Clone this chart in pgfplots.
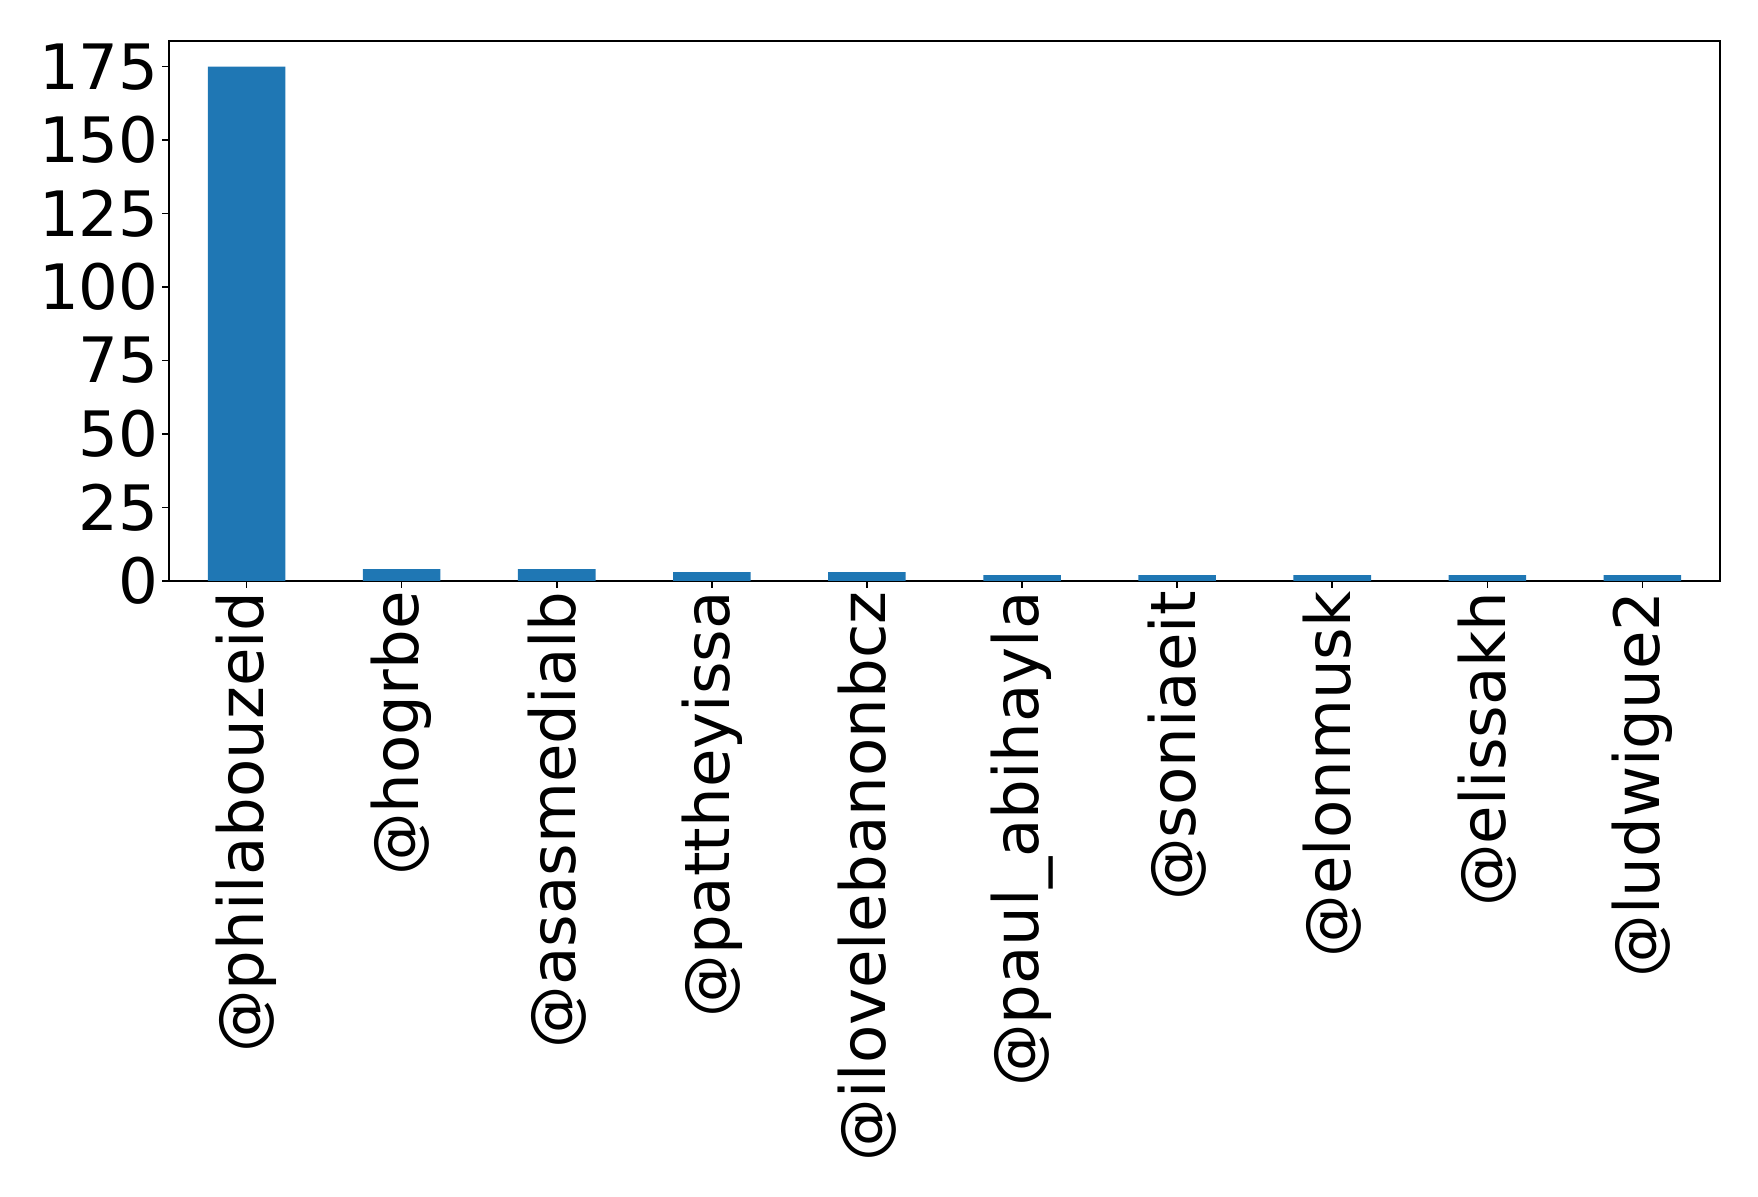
\documentclass[border=0pt]{standalone}
\usepackage{fontspec}
\setmainfont{DejaVu Sans}
\usepackage{pgfplots}
\pgfplotsset{compat=1.18}
\definecolor{mplblue}{HTML}{1F77B4}

\begin{document}
\fontsize{31.3pt}{36pt}\selectfont
\begin{tikzpicture}
    \useasboundingbox (0,0) rectangle (879pt,598.5pt);
    \begin{axis}[
        at={(84.5pt,308pt)},
        anchor=south west,
        scale only axis,
        width=775.5pt,
        height=270pt,
        ymin=0, ymax=183.75,
        xmin=-0.5, xmax=9.5,
        ytick={0,25,50,75,100,125,150,175},
        xtick={0,...,9},
        xticklabels={@philabouzeid,@hogrbe,@asasmedialb,@pattheyissa,@ilovelebanonbcz,@paul\_abihayla,@soniaeit,@elonmusk,@elissakh,@ludwigue2},
        x tick label style={rotate=90, anchor=east, inner sep=1.5pt},
        y tick label style={inner sep=1.5pt},
        tick align=outside,
        major tick length=3.5pt,
        xtick pos=bottom, ytick pos=left,
        axis line style={line width=0.8pt},
        every tick/.style={black, line width=0.8pt},
        /pgf/number format/assume math mode=true,
        ticklabel style={font=\fontsize{31.3pt}{36pt}\selectfont},
        scaled y ticks=false,
    ]
    \addplot[ybar, bar width=0.5, fill=mplblue, draw=none] coordinates {
        (0,175) (1,4) (2,4) (3,3) (4,3) (5,2) (6,2) (7,2) (8,2) (9,2)
    };
    \end{axis}
\end{tikzpicture}
\end{document}
